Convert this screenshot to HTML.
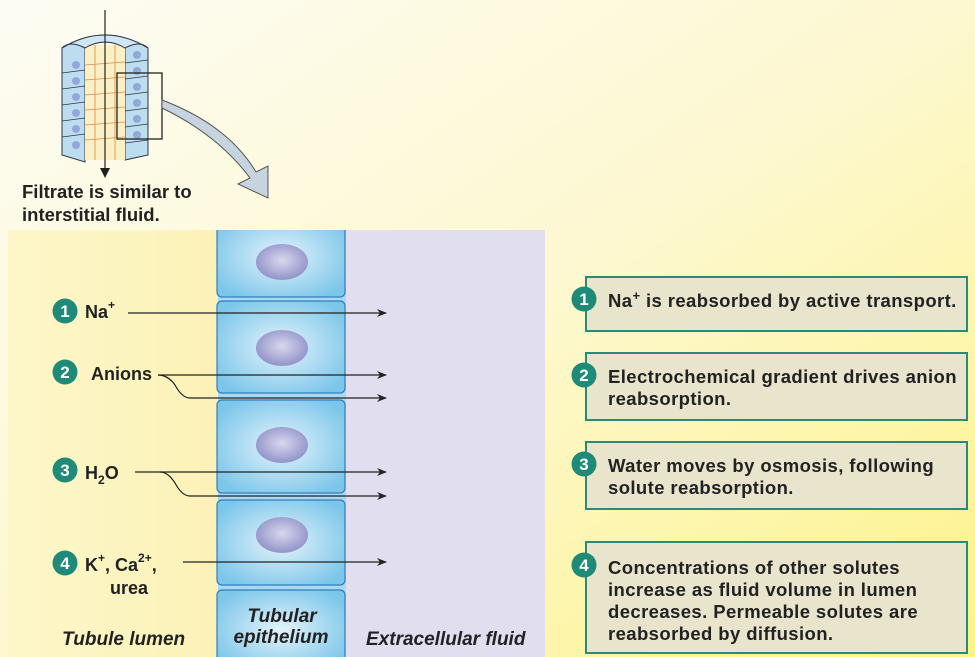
<!DOCTYPE html>
<html><head><meta charset="utf-8"><style>
html,body{margin:0;padding:0;width:975px;height:657px;overflow:hidden}
svg{display:block}
text{font-family:"Liberation Sans",Arial,sans-serif;font-weight:bold;fill:#222}
</style></head><body>
<svg width="975" height="657" viewBox="0 0 975 657" xmlns="http://www.w3.org/2000/svg">
<defs>
<linearGradient id="bg" x1="0" y1="0" x2="1" y2="1">
<stop offset="0" stop-color="#fdfcf4"/><stop offset="0.5" stop-color="#fdf8d0"/><stop offset="1" stop-color="#fdf38a"/>
</linearGradient>
<linearGradient id="lum" x1="0" y1="0" x2="1" y2="0">
<stop offset="0" stop-color="#fdf6c8"/><stop offset="1" stop-color="#fcf2b8"/>
</linearGradient>
<radialGradient id="cell" cx="0.5" cy="0.5" r="0.6">
<stop offset="0" stop-color="#e4f3fb"/><stop offset="1" stop-color="#7cc6ea"/>
</radialGradient>
<radialGradient id="nuc" cx="0.5" cy="0.45" r="0.6">
<stop offset="0" stop-color="#d8d8ee"/><stop offset="1" stop-color="#8c8cc6"/>
</radialGradient>
<marker id="ah" markerWidth="10" markerHeight="8" refX="9" refY="4" orient="auto" markerUnits="userSpaceOnUse">
<path d="M0,0 L10,4 L0,8 L3,4 Z" fill="#222"/>
</marker>
</defs>
<rect width="975" height="657" fill="url(#bg)"/>

<!-- top tube -->
<g stroke="#334" stroke-width="1">
<path d="M62,48 Q105,22 148,48 L148,155 L125,160 L125,48 Q105,36 85,48 L85,162 L62,155 Z" fill="#bcdcf0"/>
<rect x="85" y="45" width="40" height="115" fill="#fbefc4" stroke="none"/>
<path d="M62,48 Q105,22 148,48 Q140,40 125,48 Q105,36 85,48 Q70,40 62,48Z" fill="#cfe6f5"/>
</g>
<g stroke="#d88a50" stroke-width="0.8">
<line x1="95" y1="45" x2="95" y2="160"/><line x1="115" y1="45" x2="115" y2="160"/>
<line x1="85" y1="65" x2="125" y2="62"/><line x1="85" y1="80" x2="125" y2="77"/><line x1="85" y1="95" x2="125" y2="92"/><line x1="85" y1="110" x2="125" y2="107"/><line x1="85" y1="125" x2="125" y2="122"/><line x1="85" y1="140" x2="125" y2="137"/>
</g>
<g fill="#93a8d8">
<circle cx="76" cy="65" r="4"/><circle cx="76" cy="81" r="4"/><circle cx="76" cy="97" r="4"/><circle cx="76" cy="113" r="4"/><circle cx="76" cy="129" r="4"/><circle cx="76" cy="145" r="4"/>
<circle cx="137" cy="55" r="4"/><circle cx="137" cy="71" r="4"/><circle cx="137" cy="87" r="4"/><circle cx="137" cy="103" r="4"/><circle cx="137" cy="119" r="4"/><circle cx="137" cy="135" r="4"/>
</g>
<g stroke="#334" stroke-width="0.8">
<line x1="62" y1="73" x2="85" y2="70"/><line x1="62" y1="89" x2="85" y2="86"/><line x1="62" y1="105" x2="85" y2="102"/><line x1="62" y1="121" x2="85" y2="118"/><line x1="62" y1="137" x2="85" y2="134"/>
<line x1="125" y1="63" x2="148" y2="60"/><line x1="125" y1="79" x2="148" y2="76"/><line x1="125" y1="95" x2="148" y2="92"/><line x1="125" y1="111" x2="148" y2="108"/><line x1="125" y1="127" x2="148" y2="124"/><line x1="125" y1="143" x2="148" y2="140"/>
</g>
<line x1="105" y1="10" x2="105" y2="170" stroke="#222" stroke-width="1.2"/>
<path d="M100,168 L105,178 L110,168 Z" fill="#222"/>
<rect x="117" y="73" width="45" height="66" fill="none" stroke="#222" stroke-width="1.3"/>
<path d="M162,100 Q228,125 256,172 L268,166 L268,198 L238,184 L250,178 Q218,135 162,108 Z" fill="#c6d4e0" stroke="#555" stroke-width="1"/>
<text x="22" y="198" font-size="18.5">Filtrate is similar to</text>
<text x="22" y="221" font-size="18.5">interstitial fluid.</text>

<!-- main panel -->
<svg x="8" y="230" width="537" height="427" viewBox="8 230 537 427" overflow="hidden">
<rect x="8" y="230" width="210" height="427" fill="url(#lum)"/>
<rect x="344" y="230" width="201" height="427" fill="#e1def0"/>
<rect x="218" y="230" width="128" height="427" fill="#a9d8f0"/>
<g stroke="#2f7fc0" stroke-width="1.2" fill="url(#cell)">
<rect x="217" y="215" width="128" height="82" rx="5"/>
<rect x="217" y="301" width="128" height="92" rx="5"/>
<rect x="217" y="400" width="128" height="93" rx="5"/>
<rect x="217" y="500" width="128" height="85" rx="5"/>
<rect x="217" y="590" width="128" height="80" rx="5"/>
</g>
</svg>
<g fill="url(#nuc)">
<ellipse cx="282" cy="262" rx="26" ry="18"/>
<ellipse cx="282" cy="348" rx="26" ry="18"/>
<ellipse cx="282" cy="445" rx="26" ry="18"/>
<ellipse cx="282" cy="535" rx="26" ry="18"/>
</g>

<g stroke="#222" stroke-width="1.2" fill="none" marker-end="url(#ah)">
<line x1="128" y1="313" x2="386" y2="313"/>
<line x1="158" y1="375" x2="386" y2="375"/>
<path d="M158,375 Q168,375 175,385 Q182,398 190,398 L386,398"/>
<line x1="135" y1="472" x2="386" y2="472"/>
<path d="M160,472 Q168,472 175,483 Q182,496 190,496 L386,496"/>
<line x1="183" y1="562" x2="386" y2="562"/>
</g>

<g fill="#1f8a78">
<circle cx="65" cy="311" r="12.5"/><circle cx="65" cy="372" r="12.5"/><circle cx="65" cy="470" r="12.5"/><circle cx="65" cy="563" r="12.5"/>
</g>
<g font-size="17" text-anchor="middle">
<text x="65" y="317" style="fill:#fff">1</text><text x="65" y="378" style="fill:#fff">2</text><text x="65" y="476" style="fill:#fff">3</text><text x="65" y="569" style="fill:#fff">4</text>
</g>
<text x="85" y="318" font-size="18">Na<tspan font-size="12" dy="-9">+</tspan></text>
<text x="91" y="380" font-size="18">Anions</text>
<text x="85" y="479" font-size="18">H<tspan font-size="12" dy="5">2</tspan><tspan dy="-5">O</tspan></text>
<text x="85" y="571" font-size="18">K<tspan font-size="12" dy="-9">+</tspan><tspan dy="9">, Ca</tspan><tspan font-size="12" dy="-9">2+</tspan><tspan dy="9">,</tspan></text>
<text x="110" y="594" font-size="18">urea</text>
<g font-style="italic" font-size="19">
<text x="62" y="645">Tubule lumen</text>
<text x="282" y="622" text-anchor="middle">Tubular</text>
<text x="281" y="643" text-anchor="middle">epithelium</text>
<text x="366" y="645">Extracellular fluid</text>
</g>

<!-- right boxes -->
<g fill="#e9e4cc" stroke="#2a8a78" stroke-width="2">
<rect x="586" y="277" width="381" height="54"/>
<rect x="586" y="353" width="381" height="67"/>
<rect x="586" y="442" width="381" height="67"/>
<rect x="586" y="542" width="381" height="111"/>
</g>
<g fill="#1f8a78">
<circle cx="584" cy="299" r="12.5"/><circle cx="584" cy="375" r="12.5"/><circle cx="584" cy="464" r="12.5"/><circle cx="584" cy="565" r="12.5"/>
</g>
<g font-size="17" text-anchor="middle">
<text x="584" y="305" style="fill:#fff">1</text><text x="584" y="381" style="fill:#fff">2</text><text x="584" y="470" style="fill:#fff">3</text><text x="584" y="571" style="fill:#fff">4</text>
</g>
<g font-size="18.5" letter-spacing="0.4">
<text x="608" y="307">Na<tspan font-size="13" dy="-7">+</tspan><tspan dy="7"> is reabsorbed by active transport.</tspan></text>
<text x="608" y="383">Electrochemical gradient drives anion</text>
<text x="608" y="405">reabsorption.</text>
<text x="608" y="472">Water moves by osmosis, following</text>
<text x="608" y="494">solute reabsorption.</text>
<text x="608" y="574">Concentrations of other solutes</text>
<text x="608" y="596">increase as fluid volume in lumen</text>
<text x="608" y="618">decreases. Permeable solutes are</text>
<text x="608" y="640">reabsorbed by diffusion.</text>
</g>
</svg>
</body></html>
